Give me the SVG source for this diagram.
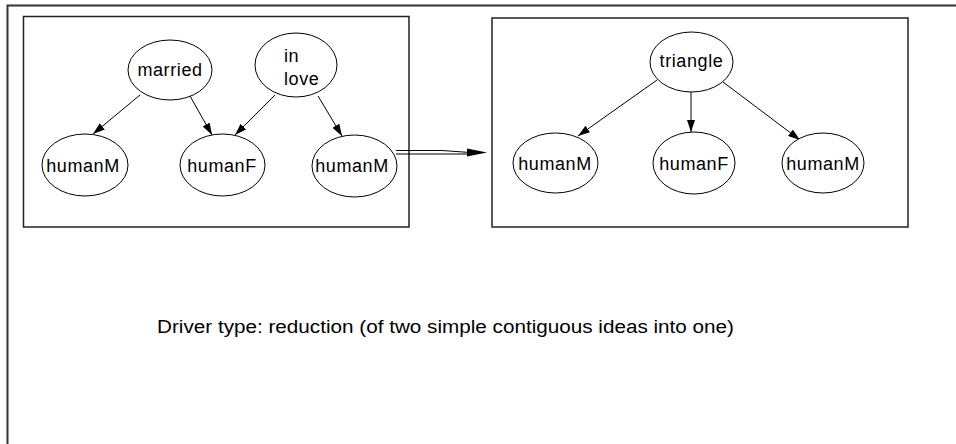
<svg xmlns="http://www.w3.org/2000/svg" width="956" height="444" viewBox="0 0 956 444">
<style>
.frame{fill:none;stroke:#333;stroke-width:2}
.box{fill:none;stroke:#222;stroke-width:1.5}
.node ellipse{fill:#fff;stroke:#000;stroke-width:1}
text{font-family:"Liberation Sans",Arial,sans-serif;font-size:18px;fill:#000}
.node text{letter-spacing:0.6px}
.lab{text-anchor:middle}
.edge{stroke:#000;stroke-width:1;fill:none}
</style>
<defs>
<marker id="ah" viewBox="0 0 12 8" refX="12" refY="4" markerWidth="12" markerHeight="8" markerUnits="userSpaceOnUse" orient="auto">
<path d="M0,0 L12,4 L0,8 Z" fill="#000"/>
</marker>
</defs>
<rect width="956" height="444" fill="#fff"/>
<path class="frame" d="M7.5,444 V5.5 H956"/>
<g id="left-box"><rect class="box" x="23.5" y="16.5" width="385.5" height="210.5"/></g>
<g id="right-box"><rect class="box" x="492" y="18" width="416" height="209"/></g>
<g id="connectors">
<line class="edge" x1="140" y1="95" x2="93" y2="134" marker-end="url(#ah)"/>
<line class="edge" x1="190" y1="96" x2="212" y2="135" marker-end="url(#ah)"/>
<line class="edge" x1="275" y1="95" x2="235" y2="135" marker-end="url(#ah)"/>
<line class="edge" x1="318" y1="96" x2="342" y2="136" marker-end="url(#ah)"/>
<line class="edge" x1="657" y1="80" x2="578" y2="136" marker-end="url(#ah)"/>
<line class="edge" x1="691" y1="92" x2="691" y2="132" marker-end="url(#ah)"/>
<line class="edge" x1="723" y1="82" x2="800" y2="140" marker-end="url(#ah)"/>
<path class="edge" d="M396,150.5 H442 L470,152.5"/>
<path class="edge" d="M396,154 H470"/>
<path d="M467,148.5 L487,152.5 L467,156.5 Z" fill="#000"/>
</g>
<g id="married" class="node"><ellipse cx="170" cy="70" rx="42" ry="30"/><text class="lab" x="170" y="76">married</text></g>
<g id="inlove" class="node"><ellipse cx="296" cy="65" rx="41" ry="32"/><text x="284" y="62">in</text><text x="284" y="85">love</text></g>
<g id="humanM1" class="node"><ellipse cx="85" cy="165" rx="43" ry="31"/><text class="lab" x="83" y="172">humanM</text></g>
<g id="humanF1" class="node"><ellipse cx="222.5" cy="165" rx="42.5" ry="31"/><text class="lab" x="222" y="172">humanF</text></g>
<g id="humanM2" class="node"><ellipse cx="354.5" cy="166" rx="42.5" ry="31"/><text class="lab" x="352" y="172">humanM</text></g>
<g id="triangle" class="node"><ellipse cx="691.5" cy="62" rx="41.5" ry="30"/><text class="lab" x="691.5" y="67">triangle</text></g>
<g id="humanM3" class="node"><ellipse cx="555.5" cy="163" rx="42.5" ry="30"/><text class="lab" x="555" y="170">humanM</text></g>
<g id="humanF2" class="node"><ellipse cx="694" cy="163" rx="41" ry="31"/><text class="lab" x="694" y="170">humanF</text></g>
<g id="humanM4" class="node"><ellipse cx="823" cy="163" rx="41" ry="30"/><text class="lab" x="823" y="170">humanM</text></g>
<text x="157" y="333" font-size="17" textLength="577" lengthAdjust="spacingAndGlyphs">Driver type: reduction (of two simple contiguous ideas into one)</text>
</svg>
